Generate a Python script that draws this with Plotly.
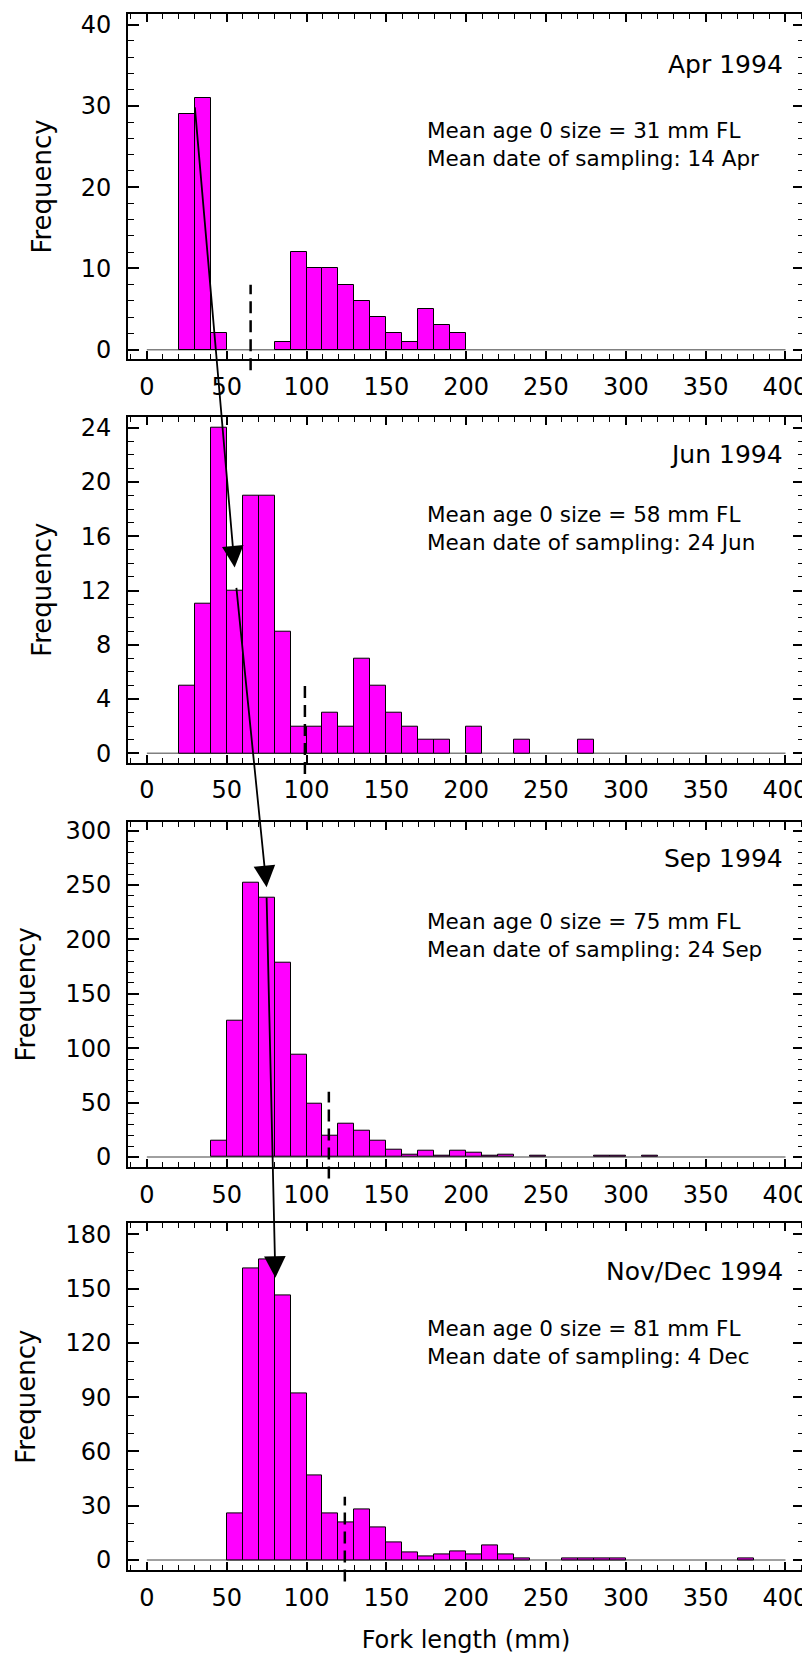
import plotly.graph_objects as go

# ---------------- data ----------------
panel_titles = ["Apr 1994", "Jun 1994", "Sep 1994", "Nov/Dec 1994"]
mean_sizes = [31, 58, 75, 81]
mean_dates = ["14 Apr", "24 Jun", "24 Sep", "4 Dec"]

apr_bins = [20, 30, 40, 80, 90, 100, 110, 120, 130, 140, 150, 160, 170, 180, 190]
apr_counts = [29, 31, 2, 1, 12, 10, 10, 8, 6, 4, 2, 1, 5, 3, 2]

jun_bins = [20, 30, 40, 50, 60, 70, 80, 90, 100, 110, 120, 130, 140, 150, 160, 170, 180, 200, 230, 270]
jun_counts = [5, 11, 24, 12, 19, 19, 9, 2, 2, 3, 2, 7, 5, 3, 2, 1, 1, 2, 1, 1]

sep_bins = [40, 50, 60, 70, 80, 90, 100, 110, 120, 130, 140, 150, 160, 170, 180, 190, 200, 210, 220, 240, 280, 290, 310]
sep_counts = [15, 125, 252, 238, 179, 94, 49, 20, 31, 24, 15, 7, 2, 6, 1, 6, 4, 1, 2, 1, 1, 1, 1]

nov_bins = [50, 60, 70, 80, 90, 100, 110, 120, 130, 140, 150, 160, 170, 180, 190, 200, 210, 220, 230, 260, 270, 280, 290, 370]
nov_counts = [26, 161, 166, 146, 92, 47, 26, 21, 28, 18, 10, 4, 2, 3, 5, 3, 8, 3, 1, 1, 1, 1, 1, 1]

bin_width = 10

# dashed cut-off markers (x position, top of dash in frequency units)
cutoff_x = [65, 99, 114, 124]
cutoff_top = [8, 5, 60, 35]

# growth arrows: (from panel, x, y) -> (to panel, x, y)
arrow_from = [(0, 30, 30), (1, 56, 12.3), (2, 75, 240)]
arrow_to = [(1, 55, 13.7), (2, 75, 248), (3, 80.5, 156)]

# y axis settings per panel
y_ranges = [[-1.14, 41.31], [-0.68, 24.81], [-9.16, 308.2], [-5.51, 186.06]]
y_dticks = [10, 4, 50, 30]
y_minor = [2, 1, 10, 10]

# ---------------- layout helpers ----------------
W, H = 810, 1655
OFF = 8  # page body margin offset
M_T, M_B, M_L, M_R = 1, 93, 120, 14
plot_h = H - M_T - M_B
# panel frame positions on screen (top, bottom)
panel_px = [(8.3, 355.0), (413.0, 760.0), (819.3, 1165.7), (1222.3, 1570.0)]
domains = []
for top, bot in panel_px:
    d0 = (H - M_B - (bot - OFF)) / plot_h
    d1 = (H - M_B - (top - OFF)) / plot_h
    domains.append([max(0.0, d0), min(1.0, d1)])

x_range = [-11.8, 411.6]

title_y = [0.855, 0.892, 0.8935, 0.8605]
text_y = [0.622, 0.677, 0.671, 0.6566]


def to_paper(p, y):
    d0, d1 = domains[p]
    r0, r1 = y_ranges[p]
    return d0 + (y - r0) / (r1 - r0) * (d1 - d0)


def from_paper(p, v):
    d0, d1 = domains[p]
    r0, r1 = y_ranges[p]
    return r0 + (v - d0) / (d1 - d0) * (r1 - r0)


def to_dom(p, y):
    r0, r1 = y_ranges[p]
    return (y - r0) / (r1 - r0)


FONT = "DejaVu Sans"
all_bins = [apr_bins, jun_bins, sep_bins, nov_bins]
all_counts = [apr_counts, jun_counts, sep_counts, nov_counts]

fig = go.Figure()
shapes = []
annotations = []

for i in range(4):
    sfx = "" if i == 0 else str(i + 1)
    xa, ya = "x" + sfx, "y" + sfx
    fig.add_trace(go.Bar(
        x=[b + bin_width / 2 for b in all_bins[i]],
        y=all_counts[i],
        width=bin_width,
        marker=dict(color="#FF00FF", line=dict(color="black", width=1)),
        xaxis=xa, yaxis=ya, showlegend=False,
    ))
    axis_common = dict(
        showgrid=False, zeroline=False, showline=True, linewidth=2,
        linecolor="black", mirror="allticks", ticks="inside",
        tickcolor="black", tickwidth=1.5,
        tickfont=dict(family=FONT, size=24, color="black"),
    )
    fig.layout["xaxis" + sfx] = dict(
        axis_common, range=x_range, domain=[0, 1], anchor=ya,
        tick0=0, dtick=50, ticklen=8, ticklabelstandoff=5,
        minor=dict(ticks="inside", dtick=10, ticklen=5, tickwidth=1, tickcolor="black"),
        title=dict(text="Fork length (mm)" if i == 3 else "",
                   font=dict(family=FONT, size=24, color="black"), standoff=20),
    )
    fig.layout["yaxis" + sfx] = dict(
        axis_common, range=y_ranges[i], domain=domains[i], anchor=xa,
        tick0=0, dtick=y_dticks[i], ticklen=11, ticklabelstandoff=10,
        minor=dict(ticks="inside", dtick=y_minor[i], ticklen=6, tickwidth=1, tickcolor="black"),
        title=dict(text="Frequency", font=dict(family=FONT, size=26, color="black"), standoff=22),
    )
    # grey baseline
    shapes.append(dict(type="line", xref=xa, yref=ya, x0=0, x1=400, y0=0, y1=0,
                       line=dict(color="#808080", width=1.5), layer="below"))
    # dashed cut-off
    shapes.append(dict(type="line", xref=xa, yref=ya + " domain",
                       x0=cutoff_x[i], x1=cutoff_x[i], y0=-0.033, y1=to_dom(i, cutoff_top[i]),
                       line=dict(color="black", width=2.5, dash="12px,7px")))
    annotations.append(dict(
        xref=xa, yref=ya + " domain", x=400, y=title_y[i], xanchor="right", yanchor="middle",
        text=panel_titles[i], showarrow=False, font=dict(family=FONT, size=25, color="black")))
    annotations.append(dict(
        xref=xa, yref=ya + " domain", x=174, y=text_y[i], xanchor="left", yanchor="middle",
        align="left", showarrow=False, font=dict(family=FONT, size=21.5, color="black"),
        text=f"Mean age 0 size = {mean_sizes[i]} mm FL<br>Mean date of sampling: {mean_dates[i]}"))

for (pf, xf, yf), (pt, xt, yt) in zip(arrow_from, arrow_to):
    sfx = str(pt + 1)
    tail_y = from_paper(pt, to_paper(pf, yf))
    annotations.append(dict(
        xref="x" + sfx, yref="y" + sfx, x=xt, y=yt,
        axref="x" + sfx, ayref="y" + sfx, ax=xf, ay=tail_y,
        showarrow=True, arrowhead=2, arrowsize=2.4, arrowwidth=1.8,
        arrowcolor="black", standoff=0, text=""))

fig.update_layout(
    width=W, height=H,
    margin=dict(t=M_T, b=M_B, l=M_L, r=M_R),
    paper_bgcolor="white", plot_bgcolor="white",
    shapes=shapes, annotations=annotations,
    bargap=0, font=dict(family=FONT, color="black"),
)

fig.write_html("out.html")
